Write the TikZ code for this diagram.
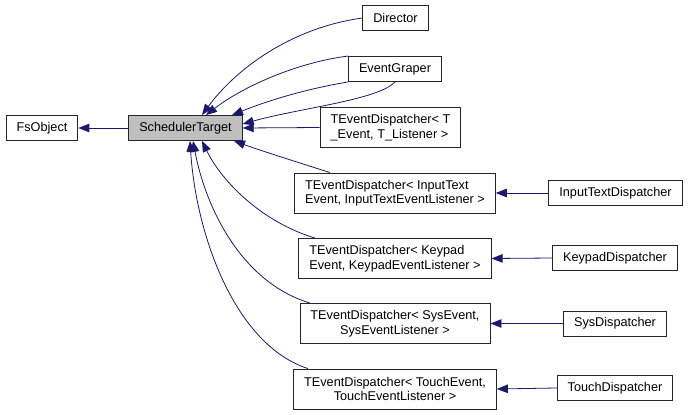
\documentclass[tikz,border=0pt]{standalone}
\usepackage{fontspec}
\setmainfont{Liberation Sans}
\usetikzlibrary{arrows.meta, positioning}

\definecolor{edgeblue}{RGB}{25,25,112}
\definecolor{basegray}{RGB}{191,191,191}

\begin{document}
\begin{tikzpicture}[
    x=1pt, y=-1pt,
    cls/.style={rectangle, draw=black!85, line width=0.9pt, fill=white, inner xsep=10.5pt, inner ysep=2pt,
      minimum height=25pt, font=\fontsize{12.7}{14.5}\selectfont},
    tmpl/.style={cls, minimum height=40pt},
    base/.style={cls, fill=basegray},
    inh/.style={draw=edgeblue, line width=0.8pt, -{Triangle[length=11pt,width=8.5pt]}}
  ]
  \useasboundingbox (0,0) rectangle (689,415);

  % ---- classes ----
  \node[cls] (fsobject) at (42,128) {FsObject};
  \node[base] (target) at (185.5,128) {SchedulerTarget};

  \node[cls] (director) at (395.5,18) {Director};
  \node[cls] (grapher) at (395,69) {EventGraper};
  \node[tmpl, align=left] (dispT) at (390.5,127.5) {TEventDispatcher< T\\\_Event, T\_Listener >};

  \node[tmpl, align=left] (dispInput) at (395,193) {TEventDispatcher< InputText\\Event, InputTextEventListener >};
  \node[tmpl, align=left] (dispKeypad) at (395,258.5) {TEventDispatcher< Keypad\\Event, KeypadEventListener >};
  \node[tmpl, align=center] (dispSys) at (395,323.5) {TEventDispatcher< SysEvent,\\SysEventListener >};
  \node[tmpl, align=center] (dispTouch) at (395,389) {TEventDispatcher< TouchEvent,\\TouchEventListener >};

  \node[cls] (inputDisp) at (615.5,193) {InputTextDispatcher};
  \node[cls] (keypadDisp) at (615,258) {KeypadDispatcher};
  \node[cls] (sysDisp) at (615,323.5) {SysDispatcher};
  \node[cls] (touchDisp) at (615,388) {TouchDispatcher};

  % ---- inheritance ----
  \draw[inh] (target.west) -- (fsobject.east);

  \draw[inh] (director.west) .. controls (290,28) and (235,70) .. (target.north -| 202,0);
  \draw[inh] (grapher.north west) .. controls (300,62) and (245,85) .. (target.north -| 206,0);
  \draw[inh] (grapher.south west) .. controls (300,90) and (262,103) .. (target.north -| 232,0);
  \draw[inh] (grapher.south) .. controls (378,100) and (300,108) .. (target.4);
  \draw[inh] (dispT.west) -- (target.east);

  \draw[inh] (dispInput.north -| 330,0) .. controls (300,163) and (262,151) .. (target.south -| 234,0);
  \draw[inh] (dispKeypad.north -| 315,0) .. controls (262,222) and (222,182) .. (target.south -| 202,0);
  \draw[inh] (dispSys.north -| 310,0) .. controls (240,282) and (205,205) .. (target.south -| 193,0);
  \draw[inh] (dispTouch.north -| 308,0) .. controls (235,345) and (196,235) .. (target.south -| 190,0);

  \draw[inh] (inputDisp.west) -- (dispInput.east);
  \draw[inh] (keypadDisp.west) -- (dispKeypad.east);
  \draw[inh] (sysDisp.west) -- (dispSys.east);
  \draw[inh] (touchDisp.west) -- (dispTouch.east);
\end{tikzpicture}
\end{document}
